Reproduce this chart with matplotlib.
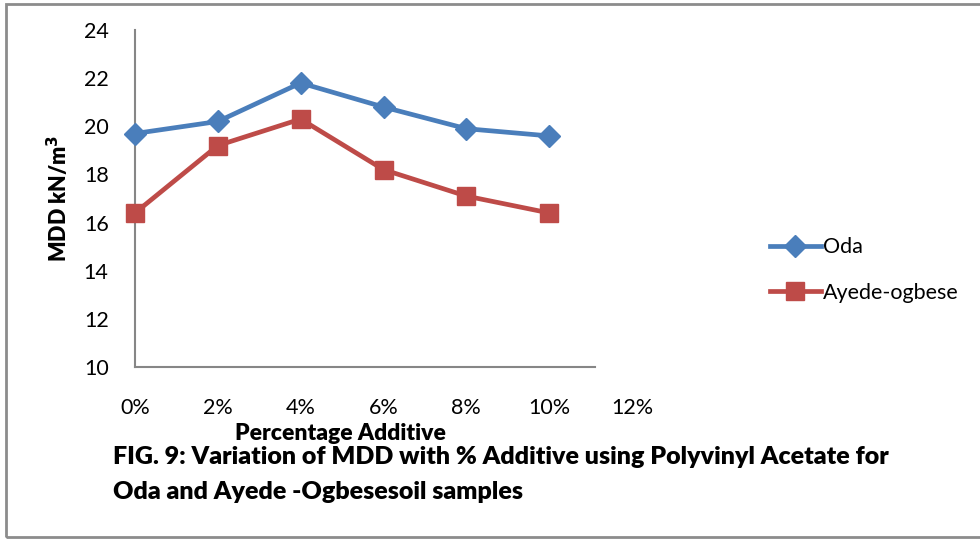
import matplotlib.pyplot as plt
from matplotlib.patches import Rectangle
from matplotlib.ticker import FuncFormatter

# percentage additive (polyvinyl acetate) and MDD in kN/m3
additive = [0, 2, 4, 6, 8, 10]
mdd_oda = [19.7, 20.2, 21.8, 20.8, 19.9, 19.6]
mdd_ayede = [16.4, 19.2, 20.3, 18.2, 17.1, 16.4]
x_ticks = [0, 2, 4, 6, 8, 10, 12]
y_ticks = [10, 12, 14, 16, 18, 20, 22, 24]

blue = '#4A7EBB'
red = '#BE4B48'
plt.rcParams['font.family'] = ['Lato', 'DejaVu Sans']

fig = plt.figure(figsize=(9.8, 5.4), dpi=100)
ax = fig.add_axes([135/980, 1-367/540, (632-135)/980, (367-30)/540])

ax.plot(additive, mdd_oda, color=blue, lw=3.4, marker='D', ms=11,
        label='Oda', clip_on=False, zorder=3)
ax.plot(additive, mdd_ayede, color=red, lw=3.4, marker='s', ms=13,
        label='Ayede-ogbese', clip_on=False, zorder=3)

ax.set_xlim(0, 12)
ax.set_ylim(10, 24)
ax.set_xticks(x_ticks)
ax.set_yticks(y_ticks)
ax.xaxis.set_major_formatter(FuncFormatter(lambda v, p: '%d%%' % v))
ax.tick_params(length=0, labelsize=15.5, colors='black')
ax.tick_params(axis='x', pad=22)
ax.tick_params(axis='y', pad=19)
for s in ['top', 'right']:
    ax.spines[s].set_visible(False)
for s in ['left', 'bottom']:
    ax.spines[s].set_color('#868686')
    ax.spines[s].set_linewidth(1.5)
ax.spines['bottom'].set_bounds(0, 11.1)

ax.set_ylabel('MDD kN/m$^\\mathbf{3}$', fontsize=15.5, fontweight='heavy', labelpad=9)

fig.text(340/980, 1-433/540, 'Percentage Additive', fontsize=16.5, fontweight='heavy',
         ha='center', va='center')
fig.text(113/980, 1-457/540, 'FIG. 9: Variation of MDD with % Additive using Polyvinyl Acetate for',
         fontsize=18, fontweight='heavy', ha='left', va='center')
fig.text(113/980, 1-492/540, 'Oda and Ayede -Ogbesesoil samples',
         fontsize=18, fontweight='heavy', ha='left', va='center')

ax.legend(loc='center left', bbox_to_anchor=(761/980, 1-270/540), bbox_transform=fig.transFigure,
          frameon=False, fontsize=15.5, handlelength=2.4, handletextpad=0.1, labelspacing=1.2,
          borderaxespad=0)

fig.patches.append(Rectangle((6/980, 3/540), 1.0, 533/540, transform=fig.transFigure,
                             fill=False, edgecolor='#8c8c8c', lw=2))

fig.savefig('out.png', dpi=100)
